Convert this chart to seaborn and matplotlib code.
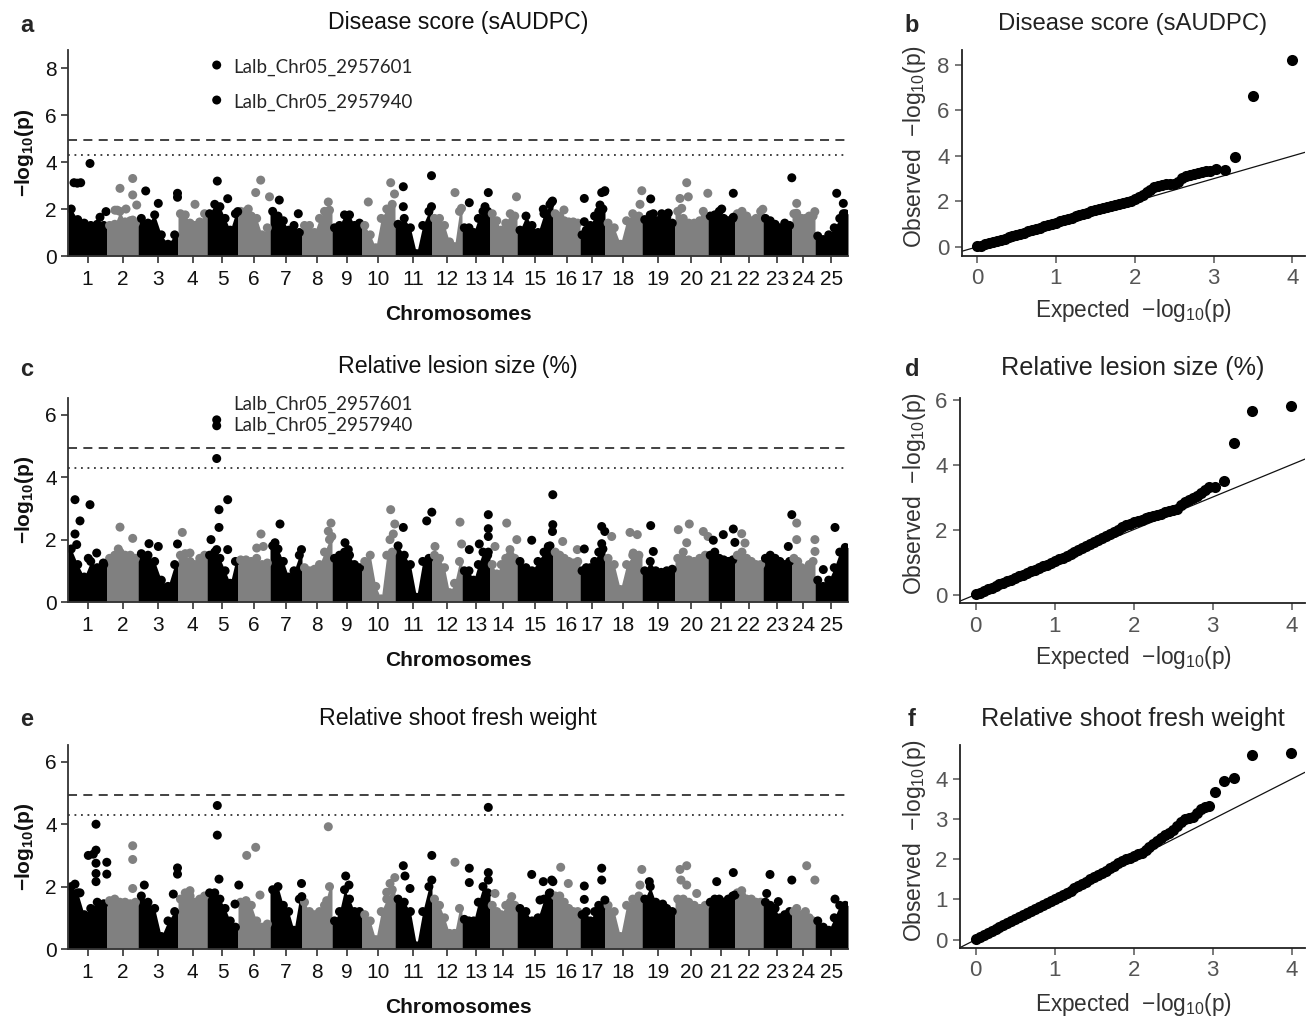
import numpy as np
import pandas as pd
import matplotlib
matplotlib.use("Agg")
import matplotlib.pyplot as plt
import seaborn as sns

# ---- chromosomes ----
chrom_labels = ["1", "2", "3", "4", "5", "6", "7", "8", "9", "10", "11", "12", "13",
                "14", "15", "16", "17", "18", "19", "20", "21", "22", "23", "24", "25"]
chrom_len = [39, 31, 40, 29, 31, 32, 32, 30, 30, 33, 37, 30, 28, 27, 36, 27, 25,
             37, 33, 33, 27, 28, 29, 23, 33]

sig_line = 4.94
sug_line = 4.28

# ---- panel a: disease score (sAUDPC) ----
a_mass = [
    [2.0, 1.55, 1.4, 1.3, 1.35, 1.3], [1.3, 1.35, 1.9, 1.45, 1.5, 1.4],
    [1.6, 1.4, 1.75, 0.9, 0.5, 0.9], [1.8, 1.75, 1.4, 1.3, 1.45, 1.8],
    [1.8, 2.2, 2.1, 1.6, 1.1, 1.8], [1.9, 1.9, 1.7, 1.6, 0.9, 1.2],
    [1.9, 1.7, 1.5, 1.1, 1.3, 1.0], [1.3, 1.3, 1.0, 1.6, 1.9, 1.95],
    [1.2, 1.3, 1.75, 1.75, 1.3, 1.4], [1.3, 0.9, 0.35, 1.6, 2.0, 2.2],
    [1.35, 1.6, 1.2, 0.1, 1.3, 1.9], [1.6, 1.6, 1.3, 0.6, 0.4, 1.9],
    [1.2, 1.2, 1.0, 1.6, 1.9, 1.9], [1.8, 1.5, 1.1, 1.4, 1.8, 1.7],
    [1.1, 1.7, 1.3, 1.0, 1.8, 2.2], [1.8, 1.7, 1.5, 1.45, 1.45, 1.4],
    [0.9, 1.1, 1.3, 1.7, 1.9, 2.0], [1.4, 1.2, 0.5, 1.5, 1.8, 1.7],
    [1.55, 1.75, 1.5, 1.6, 1.65, 1.4], [1.9, 1.6, 1.4, 1.4, 1.5, 1.7],
    [1.7, 1.75, 1.9, 1.6, 1.5, 1.6], [1.8, 1.9, 1.7, 1.5, 1.6, 1.9],
    [1.6, 1.5, 1.35, 1.2, 1.4, 1.3], [1.8, 1.6, 1.6, 1.6, 1.7, 1.7],
    [0.85, 0.7, 0.9, 1.2, 1.6, 1.8],
]
a_hit_chr = [1, 1, 1, 1, 1, 1, 2, 2, 2, 2, 2, 2, 2, 2, 3, 3, 3, 3, 4, 5, 5, 5, 5, 5,
             6, 6, 6, 6, 7, 7, 8, 10, 10, 10, 11, 11, 11, 11, 12, 12, 13, 13, 13, 14,
             15, 15, 15, 15, 16, 17, 17, 17, 17, 17, 17, 18, 18, 19, 19, 19, 19,
             20, 20, 20, 20, 20, 20, 21, 21, 21, 22, 23, 24, 24, 24, 25, 25, 25]
a_hit_pos = [6, 9.3, 12.7, 22, 32, 38, 8, 10.3, 13, 19, 25.7, 25.7, 29.7, 25.7, 7.7,
             20.3, 39.5, 39.5, 17, 9.7, 9.7, 10.3, 20.7, 30.7, 10.3, 17.7, 22.7, 31.5,
             9.3, 28.3, 26.3, 6.3, 28.7, 32.5, 8.3, 8.3, 36.5, 36.5, 23, 29.5, 7.3,
             26.3, 23, 26.5, 35.5, 28, 26.3, 34.7, 11, 4.3, 4.3, 21.7, 24.5, 24.9, 20,
             35, 36.8, 8.7, 11.3, 19.7, 26.3, 5, 11.7, 13.3, 6.7, 32.8, 28.3, 13.7,
             25.3, 25.3, 27.8, 28.8, 4.7, 4.7, 22.8, 21.7, 28.3, 28.3]
a_hit_val = [3.12, 3.1, 3.12, 3.94, 1.65, 1.89, 1.95, 1.95, 2.88, 2.0, 3.3, 2.6, 2.17,
             1.53, 2.77, 2.24, 2.67, 2.5, 2.2, 8.13, 6.64, 3.19, 2.44, 1.89, 2.0, 2.7,
             3.23, 2.52, 2.38, 1.8, 2.3, 2.3, 3.12, 2.64, 2.95, 2.1, 3.42, 2.1, 2.7,
             2.03, 2.27, 2.7, 2.1, 2.52, 2.34, 1.8, 1.99, 2.3, 1.96, 2.45, 1.46, 2.7,
             2.74, 2.78, 2.17, 2.2, 2.78, 2.43, 1.8, 1.8, 1.83, 2.45, 3.12, 2.52, 2.03,
             2.67, 1.9, 2.0, 2.67, 1.65, 1.99, 3.33, 2.24, 1.82, 1.89, 2.67, 2.24, 1.8]

# ---- panel c: relative lesion size (%) ----
c_mass = [
    [1.7, 1.2, 0.8, 1.3, 1.1, 1.2], [1.4, 1.5, 1.6, 1.5, 1.5, 1.4],
    [1.55, 1.5, 1.3, 0.7, 0.5, 1.2], [1.5, 1.55, 1.3, 1.2, 1.4, 1.5],
    [1.5, 1.6, 1.4, 1.0, 0.6, 1.3], [1.35, 1.35, 1.3, 1.4, 1.2, 1.25],
    [1.8, 1.7, 1.3, 0.8, 1.0, 1.5], [1.1, 1.0, 1.05, 1.2, 1.6, 2.0],
    [1.4, 1.5, 1.6, 1.5, 1.2, 1.1], [1.3, 1.5, 0.5, 0.1, 1.5, 1.6],
    [1.8, 1.5, 1.2, 0.15, 1.3, 1.4], [1.5, 1.4, 1.1, 0.3, 0.6, 1.3],
    [1.0, 1.0, 0.7, 1.2, 1.6, 1.5], [1.2, 0.9, 1.2, 1.4, 1.5, 1.4],
    [1.3, 1.1, 1.0, 1.3, 1.6, 1.8], [1.6, 1.5, 1.4, 1.3, 1.25, 1.3],
    [1.0, 1.1, 1.1, 1.3, 1.6, 1.7], [1.4, 1.2, 0.4, 1.2, 1.5, 1.5],
    [1.0, 1.3, 1.0, 0.95, 1.0, 1.05], [1.4, 1.6, 1.35, 1.3, 1.4, 1.5],
    [1.5, 1.6, 1.4, 1.35, 1.3, 1.35], [1.5, 1.6, 1.4, 1.3, 1.2, 1.2],
    [1.4, 1.5, 1.4, 1.3, 1.2, 1.3], [1.4, 1.3, 1.1, 1.0, 1.2, 1.3],
    [0.7, 0.5, 0.7, 1.1, 1.6, 1.75],
]
c_hit_chr = [1, 1, 1, 1, 1, 1, 1, 1, 2, 2, 2, 3, 3, 3, 4, 4, 5, 5, 5, 5, 5, 5, 5, 5, 5,
             6, 6, 6, 7, 7, 7, 8, 8, 8, 9, 9, 10, 10, 10, 10, 11, 11, 11, 12, 12, 12,
             13, 13, 13, 13, 13, 13, 14, 14, 14, 14, 15, 15, 15, 15, 15, 16, 16, 17,
             17, 17, 17, 18, 18, 18, 18, 19, 19, 20, 20, 20, 20, 20, 21, 21, 21, 21,
             22, 22, 23, 23, 24, 24, 24, 24, 25, 25]
c_hit_pos = [7, 12, 7, 8.7, 22, 20.3, 28.7, 35.3, 13, 25.7, 11.3, 11, 20.3, 39.5, 4.3,
             12, 9.7, 9.7, 9.7, 12, 12, 4, 20.7, 20.7, 9.7, 23, 18.7, 25.3, 10, 5, 31.5,
             29, 26.3, 29.8, 13, 16.3, 28.7, 32.8, 31.3, 28, 8.3, 31.7, 36.8, 3, 28,
             29.6, 7.3, 17.3, 26.3, 26.3, 26.3, 26.3, 16.7, 26.8, 20, 5, 14.7, 35.8,
             35.8, 35.5, 31.3, 9.7, 24.3, 4.3, 21.7, 24.8, 21.7, 25, 32.3, 28.3, 6.7,
             8.7, 11.3, 14.3, 3.3, 11.7, 28.3, 33, 5.3, 15.3, 25.3, 26.9, 6.7, 10,
             28.8, 25.3, 4.7, 4.7, 22.9, 23, 20, 8.3]
c_hit_val = [3.28, 2.6, 2.18, 1.84, 3.12, 1.4, 1.57, 1.25, 2.4, 2.04, 1.7, 1.87, 1.78,
             1.86, 2.23, 1.57, 5.84, 5.65, 4.6, 2.96, 2.39, 2.0, 3.28, 1.68, 1.68, 2.18,
             1.73, 1.78, 2.5, 1.9, 1.68, 2.53, 2.27, 2.1, 1.9, 1.68, 2.96, 2.5, 2.18,
             2.0, 2.39, 2.6, 2.88, 1.78, 2.56, 1.86, 1.68, 1.86, 2.8, 2.35, 2.1, 1.6,
             2.53, 2.0, 1.68, 1.78, 1.98, 3.44, 2.48, 2.26, 1.78, 1.94, 1.68, 1.7, 2.42,
             2.26, 1.87, 2.23, 2.16, 1.57, 2.1, 2.45, 1.62, 2.5, 2.32, 1.9, 2.26, 2.1,
             1.98, 2.16, 2.34, 1.91, 2.19, 1.89, 2.8, 1.78, 2.53, 2.0, 2.0, 1.62, 2.39,
             1.04]

# ---- panel e: relative shoot fresh weight ----
e_mass = [
    [2.0, 1.8, 1.1, 1.3, 1.5, 1.45], [1.55, 1.6, 1.5, 1.5, 1.45, 1.5],
    [1.7, 1.5, 1.3, 0.4, 0.9, 1.2], [1.6, 1.8, 1.7, 1.5, 1.6, 1.7],
    [1.8, 1.8, 1.6, 1.3, 0.9, 0.7], [1.5, 1.55, 1.4, 0.9, 0.7, 0.8],
    [1.9, 2.0, 1.4, 1.2, 0.6, 1.6], [1.5, 1.2, 1.1, 1.2, 1.4, 2.0],
    [0.9, 1.2, 1.9, 1.6, 1.2, 1.2], [1.1, 0.9, 0.3, 1.2, 1.6, 1.9],
    [1.6, 1.5, 1.2, 0.1, 1.2, 2.0], [1.6, 1.4, 1.0, 0.5, 0.5, 1.3],
    [0.95, 0.9, 0.9, 1.5, 2.0, 1.8], [1.4, 1.2, 1.1, 1.4, 1.5, 1.4],
    [1.3, 1.2, 0.9, 1.0, 1.6, 1.8], [1.7, 1.7, 1.5, 1.3, 1.2, 1.2],
    [1.1, 1.2, 0.9, 1.2, 1.4, 1.4], [1.4, 1.2, 0.4, 1.4, 1.6, 1.7],
    [1.6, 2.0, 1.5, 1.4, 1.3, 1.2], [1.6, 1.6, 1.5, 1.4, 1.3, 1.4],
    [1.5, 1.6, 1.6, 1.5, 1.6, 1.7], [1.8, 1.7, 1.6, 1.6, 1.5, 1.5],
    [1.5, 1.4, 1.3, 1.0, 1.1, 1.2], [1.2, 1.0, 1.1, 1.2, 1.0, 0.9],
    [0.9, 0.7, 0.6, 1.0, 1.4, 1.4],
]
e_hit_chr = [1, 1, 1, 1, 1, 1, 1, 1, 1, 1, 1, 2, 2, 2, 3, 3, 3, 3, 4, 5, 5, 5, 5, 5,
             6, 6, 6, 7, 7, 8, 8, 9, 9, 10, 10, 10, 11, 11, 11, 11, 11, 12, 13, 13, 13,
             13, 13, 14, 14, 15, 15, 15, 15, 15, 15, 16, 16, 17, 17, 17, 17, 17, 18,
             18, 19, 19, 20, 20, 20, 20, 20, 21, 21, 21, 22, 23, 23, 23, 23, 24, 24,
             24, 25]
e_hit_pos = [7, 12, 28, 20.3, 25.3, 28, 28, 28, 28, 38.8, 38.8, 25.7, 25.7, 25.7, 6.3,
             39.5, 39.5, 35.3, 12, 10.3, 10.3, 12, 31.8, 28, 8.7, 17.7, 22, 31.5, 31.8,
             26.3, 24.7, 13.7, 17, 28, 32.8, 24.7, 8.3, 10, 15, 36.8, 36.8, 23, 7.3,
             7.3, 26.3, 26.3, 26.3, 5, 21.7, 14.7, 26.3, 34.7, 35.9, 32.3, 23, 7.7,
             15.3, 4.3, 4.3, 21.7, 21.7, 24.9, 36.8, 35, 7.3, 20.7, 5, 11.7, 6, 11.7,
             21.7, 8.7, 25.3, 26.9, 6.7, 7, 3.7, 15.3, 28.8, 14.7, 22.9, 4.7, 20]
e_hit_val = [2.08, 1.8, 4.0, 3.0, 3.04, 3.17, 2.75, 2.42, 2.16, 2.78, 2.4, 3.31, 2.87,
             1.94, 2.05, 2.6, 2.4, 1.76, 1.87, 4.6, 3.65, 2.24, 2.05, 1.44, 3.0, 3.26,
             1.73, 2.1, 1.68, 3.92, 1.55, 2.34, 2.05, 2.1, 2.29, 1.82, 2.67, 2.34, 1.94,
             3.0, 2.21, 2.78, 2.59, 2.13, 4.54, 2.45, 2.21, 1.78, 1.68, 2.39, 2.16, 2.21,
             2.16, 1.78, 1.57, 2.62, 2.1, 2.02, 1.59, 2.59, 2.21, 1.57, 2.55, 2.05, 2.16,
             1.44, 2.55, 2.67, 2.21, 2.05, 1.78, 2.16, 2.45, 1.73, 1.87, 2.39, 1.78,
             1.52, 2.21, 2.67, 2.21, 1.3, 1.6]

snp_labels = ["Lalb_Chr05_2957601", "Lalb_Chr05_2957940"]

# ---- QQ plots (expected quantiles shared by the three traits) ----
qq_expected = [0.0, 0.05, 0.1, 0.15, 0.2, 0.25, 0.3, 0.35, 0.4, 0.45, 0.5, 0.55, 0.6,
               0.65, 0.7, 0.75, 0.8, 0.85, 0.9, 0.95, 1.0, 1.05, 1.1, 1.15, 1.2, 1.25,
               1.3, 1.35, 1.4, 1.45, 1.5, 1.55, 1.6, 1.65, 1.7, 1.75, 1.8, 1.85, 1.9,
               1.95, 2.0, 2.05, 2.1, 2.15, 2.2, 2.25, 2.3, 2.35, 2.4, 2.45, 2.5, 2.55,
               2.6, 2.65, 2.7, 2.75, 2.8, 2.85, 2.9, 2.95, 3.03, 3.14, 3.27, 3.5, 3.99]
b_observed = [0.02, 0.06, 0.11, 0.16, 0.21, 0.26, 0.31, 0.36, 0.42, 0.47, 0.52, 0.58,
              0.63, 0.69, 0.74, 0.79, 0.85, 0.9, 0.96, 1.01, 1.07, 1.12, 1.18, 1.23,
              1.29, 1.34, 1.4, 1.45, 1.51, 1.56, 1.62, 1.67, 1.72, 1.76, 1.8, 1.85,
              1.89, 1.93, 1.98, 2.04, 2.12, 2.2, 2.3, 2.4, 2.5, 2.62, 2.7, 2.74, 2.75,
              2.76, 2.76, 2.85, 3.05, 3.12, 3.16, 3.2, 3.24, 3.28, 3.32, 3.36, 3.42,
              3.4, 3.97, 6.64, 8.22]
d_observed = [0.02, 0.06, 0.11, 0.16, 0.21, 0.26, 0.31, 0.36, 0.41, 0.46, 0.51, 0.56,
              0.61, 0.67, 0.72, 0.77, 0.82, 0.87, 0.92, 0.97, 1.03, 1.09, 1.14, 1.2,
              1.26, 1.32, 1.37, 1.43, 1.49, 1.55, 1.61, 1.67, 1.73, 1.79, 1.85, 1.92,
              1.99, 2.07, 2.13, 2.18, 2.22, 2.26, 2.3, 2.35, 2.39, 2.42, 2.45, 2.49,
              2.53, 2.56, 2.59, 2.64, 2.75, 2.85, 2.92, 2.98, 3.03, 3.12, 3.22, 3.31,
              3.31, 3.51, 4.67, 5.64, 5.8]
f_observed = [0.02, 0.06, 0.11, 0.16, 0.21, 0.26, 0.31, 0.36, 0.41, 0.46, 0.51, 0.56,
              0.61, 0.66, 0.71, 0.76, 0.81, 0.86, 0.91, 0.96, 1.01, 1.06, 1.12, 1.17,
              1.22, 1.28, 1.33, 1.39, 1.44, 1.5, 1.55, 1.6, 1.66, 1.72, 1.78, 1.84, 1.9,
              1.95, 2.0, 2.04, 2.08, 2.13, 2.17, 2.23, 2.3, 2.38, 2.46, 2.54, 2.6, 2.66,
              2.74, 2.82, 2.92, 3.0, 3.04, 3.06, 3.15, 3.26, 3.3, 3.34, 3.69, 3.96, 4.02,
              4.6, 4.65]

# ---- style ----
sns.set_theme(style="ticks")
plt.rcParams["font.family"] = ["Liberation Sans", "DejaVu Sans"]
plt.rcParams["mathtext.fontset"] = "custom"
plt.rcParams["mathtext.rm"] = "Liberation Sans"
plt.rcParams["mathtext.bf"] = "Liberation Sans:bold"
plt.rcParams["mathtext.it"] = "Liberation Sans:italic"

W, H = 1311, 1022
fig = plt.figure(figsize=(W / 100, H / 100), dpi=100)


def px_axes(left, top, right, bottom):
    return fig.add_axes([left / W, 1 - bottom / H, (right - left) / W, (bottom - top) / H])


def ftext(x, y, s, **kw):
    fig.text(x / W, 1 - y / H, s, ha=kw.pop("ha", "center"), va=kw.pop("va", "center"), **kw)


chrom_start = np.concatenate([[0], np.cumsum(chrom_len)[:-1]])
chrom_mid = chrom_start + np.array(chrom_len) / 2
genome_len = float(np.sum(chrom_len))
shade = {"odd": "#000000", "even": "#808080"}
fracs = [1 / 12, 3 / 12, 5 / 12, 7 / 12, 9 / 12, 11 / 12]


def manhattan(ax, mass, hit_chr, hit_pos, hit_val, ytop, yticks):
    rows = []
    for i, heights in enumerate(mass):
        grp = "odd" if i % 2 == 0 else "even"
        start, length = chrom_start[i], chrom_len[i]
        xs = [start] + [start + f * length for f in fracs] + [start + length]
        ys = [heights[0]] + list(heights) + [heights[-1]]
        ax.fill_between(xs, 0, ys, color=shade[grp], lw=0, zorder=1)
        for f, h in zip(fracs, heights):
            rows.append((start + f * length, h, grp))
    for c, p, v in zip(hit_chr, hit_pos, hit_val):
        rows.append((chrom_start[c - 1] + p, v, "odd" if c % 2 == 1 else "even"))
    df = pd.DataFrame(rows, columns=["pos", "logp", "grp"])
    sns.scatterplot(data=df, x="pos", y="logp", hue="grp", palette=shade, s=42,
                    linewidth=0, legend=False, ax=ax, zorder=2)
    ax.axhline(sig_line, color="#333333", lw=1.3, ls=(0, (5, 3.5)), zorder=0)
    ax.axhline(sug_line, color="#333333", lw=1.3, ls=(0, (1, 2.6)), zorder=0)
    ax.set_xlim(0, genome_len)
    ax.set_ylim(0, ytop)
    ax.set_xticks(chrom_mid)
    ax.set_xticklabels(chrom_labels)
    ax.set_yticks(yticks)
    ax.set_xlabel("")
    ax.set_ylabel("")
    sns.despine(ax=ax)
    for sp in ["left", "bottom"]:
        ax.spines[sp].set_color("#333333")
        ax.spines[sp].set_linewidth(1.3)
    ax.tick_params(axis="both", labelsize=15, colors="#333333", labelcolor="#111111",
                   length=5, width=1.2)
    ax.tick_params(axis="x", pad=5)
    ax.tick_params(axis="y", pad=3)


def qqplot(ax, observed, xlim, ylim, yticks):
    ax.axline((0, 0), slope=1, color="#111111", lw=0.9, zorder=1)
    df = pd.DataFrame({"expected": qq_expected, "observed": observed})
    sns.scatterplot(data=df, x="expected", y="observed", color="black", s=64,
                    linewidth=0, ax=ax, zorder=2)
    ax.set_xlim(*xlim)
    ax.set_ylim(*ylim)
    ax.set_xticks([0, 1, 2, 3, 4])
    ax.set_yticks(yticks)
    ax.set_xlabel("")
    ax.set_ylabel("")
    sns.despine(ax=ax)
    for sp in ["left", "bottom"]:
        ax.spines[sp].set_color("#222222")
        ax.spines[sp].set_linewidth(1.3)
    ax.tick_params(axis="both", labelsize=16, colors="#555555", labelcolor="#555555",
                   length=5, width=1.1, pad=4)


man_ylab = "−log$_{\\mathbf{10}}$(p)"
qq_ylab = "Observed  −log$_{\\mathrm{10}}$(p)"
qq_xlab = "Expected  −log$_{\\mathrm{10}}$(p)"
lab_font = ["Lato", "DejaVu Sans"]

# panel a
ax_a = px_axes(68, 50, 848, 256)
manhattan(ax_a, a_mass, a_hit_chr, a_hit_pos, a_hit_val, 8.77, [0, 2, 4, 6, 8])
x5 = chrom_start[4] + 9.7
ax_a.annotate(snp_labels[0], xy=(x5, 8.13), xytext=(12, -2), textcoords="offset points",
              va="center", ha="left", fontsize=13.5, family=lab_font)
ax_a.annotate(snp_labels[1], xy=(x5, 6.64), xytext=(12, -2), textcoords="offset points",
              va="center", ha="left", fontsize=13.5, family=lab_font)

# panel c
ax_c = px_axes(68, 398, 848, 602)
manhattan(ax_c, c_mass, c_hit_chr, c_hit_pos, c_hit_val, 6.54, [0, 2, 4, 6])
ax_c.annotate(snp_labels[0], xy=(x5, 5.84), xytext=(12, 11), textcoords="offset points",
              va="center", ha="left", fontsize=13.5, family=lab_font)
ax_c.annotate(snp_labels[1], xy=(x5, 5.65), xytext=(12, 0), textcoords="offset points",
              va="center", ha="left", fontsize=13.5, family=lab_font)

# panel e
ax_e = px_axes(68, 745, 848, 949)
manhattan(ax_e, e_mass, e_hit_chr, e_hit_pos, e_hit_val, 6.54, [0, 2, 4, 6])

# QQ panels
ax_b = px_axes(962, 50, 1305, 256)
qqplot(ax_b, b_observed, (-0.19, 4.16), (-0.4, 8.66), [0, 2, 4, 6, 8])
ax_d = px_axes(960, 398, 1305, 603)
qqplot(ax_d, d_observed, (-0.2, 4.17), (-0.26, 6.05), [0, 2, 4, 6])
ax_f = px_axes(960, 745, 1305, 948)
qqplot(ax_f, f_observed, (-0.2, 4.17), (-0.21, 4.85), [0, 1, 2, 3, 4])

# titles, letters, axis labels
man_titles = ["Disease score (sAUDPC)", "Relative lesion size (%)", "Relative shoot fresh weight"]
qq_title_size = [17.2, 18.2, 18.2]
rows_y = [23, 367, 718]
tops = [50, 398, 745]
bottoms = [256, 602, 949]
for k, letter in enumerate(["a", "c", "e"]):
    ftext(27, rows_y[k] + 2, letter, fontsize=17, fontweight="bold")
    ftext(458, rows_y[k], man_titles[k], fontsize=16.7, color="#111111")
    ftext(458, bottoms[k] + 58, "Chromosomes", fontsize=15, fontweight="bold", color="#111111")
    ftext(24, (tops[k] + bottoms[k]) / 2, man_ylab, fontsize=15, fontweight="bold",
          rotation=90, color="#111111")
for k, letter in enumerate(["b", "d", "f"]):
    ftext(912, rows_y[k] + 2, letter, fontsize=17, fontweight="bold")
    ftext(1133, rows_y[k] + 1, man_titles[k], fontsize=qq_title_size[k], color="#222222")
    ftext(1134, bottoms[k] + 55, qq_xlab, fontsize=16.3, color="#333333")
    ftext(914, (tops[k] + bottoms[k]) / 2 - 6, qq_ylab, fontsize=16.5, rotation=90,
          color="#333333")

fig.savefig("out.png", dpi=100)
